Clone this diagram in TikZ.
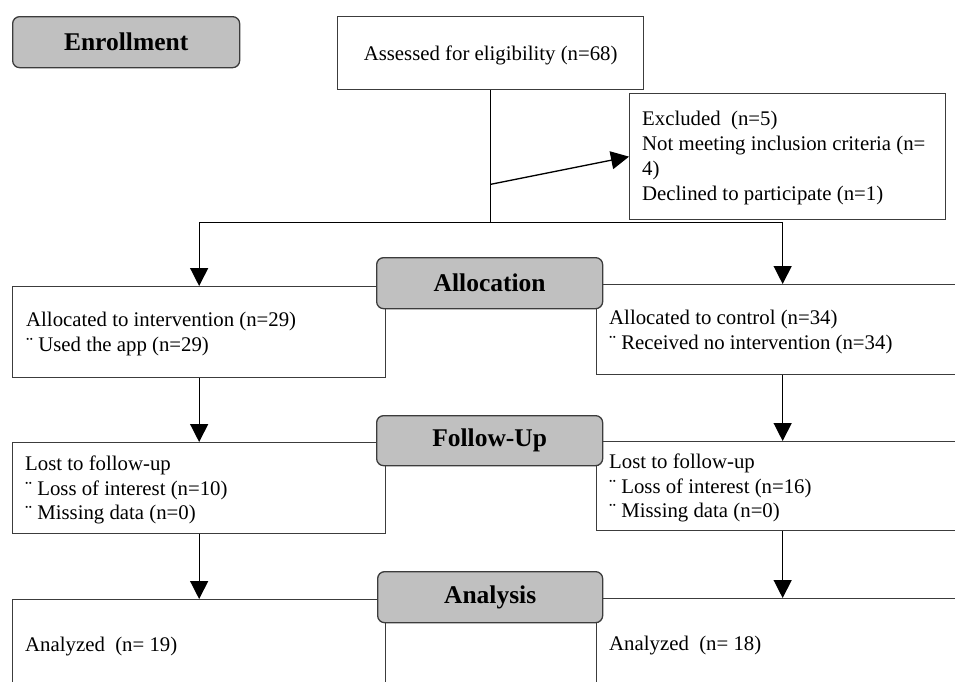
\documentclass[tikz,border=0pt]{standalone}
\usepackage{fontspec}
\setmainfont{Liberation Serif}
\usetikzlibrary{arrows.meta}
\definecolor{edgecol}{HTML}{3C3C3C}
\definecolor{labcol}{HTML}{C0C0C0}
\begin{document}
\begin{tikzpicture}[x=1pt,y=-1pt,
  box/.style={draw=edgecol, line width=1.3pt, fill=white, inner sep=0pt, anchor=north west,
    font=\fontsize{20.8}{24.7}\selectfont},
  stage/.style={draw=edgecol, line width=1.3pt, fill=labcol, rounded corners=7pt, inner sep=0pt,
    anchor=north west, font=\fontsize{25.5}{30}\selectfont\bfseries},
  txt/.style={anchor=west, align=left, inner sep=0pt, font=\fontsize{20.8}{24.7}\selectfont},
  conn/.style={line width=1.3pt, draw=black},
  arr/.style={line width=1.3pt, draw=black, -{Triangle[length=18pt,width=18pt]}}]
\useasboundingbox (0,0) rectangle (955,681);
\clip (0,0) rectangle (955,681);
\fill[white] (0,0) rectangle (955,681);

% content boxes
\node[box, minimum width=306pt, minimum height=73pt] (assess) at (337,16) {};
\node[box, minimum width=316pt, minimum height=126pt] (excl) at (629,93) {};
\node[box, minimum width=373pt, minimum height=91pt] (lalloc) at (12,286) {};
\node[box, minimum width=372pt, minimum height=90pt] (ralloc) at (596,284) {};
\node[box, minimum width=373pt, minimum height=91pt] (lfol) at (12,442) {};
\node[box, minimum width=372pt, minimum height=89pt] (rfol) at (596,441) {};
\node[box, minimum width=373pt, minimum height=120pt] (lana) at (12,599) {};
\node[box, minimum width=372pt, minimum height=120pt] (rana) at (596,598) {};

% texts
\node[txt, anchor=center] (assesstxt) at ([yshift=-2pt]assess.center) {Assessed for eligibility (n=68)};
\node[txt] (excltxt) at (642,158) {Excluded\ \ (n=5)\\Not meeting inclusion criteria (n=\\4)\\Declined to participate (n=1)};
\node[txt] (lalloctxt) at (26,334) {Allocated to intervention (n=29)\\¨ Used the app (n=29)};
\node[txt] (ralloctxt) at (609,332) {Allocated to control (n=34)\\¨ Received no intervention (n=34)};
\node[txt] (lfoltxt) at (25,490) {Lost to follow-up\\¨ Loss of interest (n=10)\\¨ Missing data (n=0)};
\node[txt] (rfoltxt) at (609,488) {Lost to follow-up\\¨ Loss of interest (n=16)\\¨ Missing data (n=0)};
\node[txt] (lanatxt) at (25,647) {Analyzed\ \ (n= 19)};
\node[txt] (ranatxt) at (609,646) {Analyzed\ \ (n= 18)};

% stage labels
\node[stage, minimum width=227pt, minimum height=51pt] (enroll) at (12,16) {Enrollment};
\node[stage, minimum width=226pt, minimum height=51pt] (allocl) at (376,257) {Allocation};
\node[stage, minimum width=226pt, minimum height=50pt] (folupl) at (376,415) {Follow-Up};
\node[stage, minimum width=225pt, minimum height=51pt] (anal) at (377,571) {Analysis};

% connectors
\path (assess.south) ++(0,132) coordinate (j);
\path (assess.south) ++(0,94) coordinate (s);
\coordinate (jl) at (lalloc.north |- j);
\coordinate (jr) at (ralloc.north |- j);
\draw[conn] (assess.south) -- (j);
\draw[conn] (jl) -- (jr);
\draw[arr] (s) -- (excl.west);
\draw[arr] (jl) -- (lalloc.north);
\draw[arr] (jr) -- (ralloc.north);
\draw[arr] (lalloc.south) -- (lfol.north);
\draw[arr] (ralloc.south) -- (rfol.north);
\draw[arr] (lfol.south) -- (lana.north);
\draw[arr] (rfol.south) -- (rana.north);
\end{tikzpicture}
\end{document}
